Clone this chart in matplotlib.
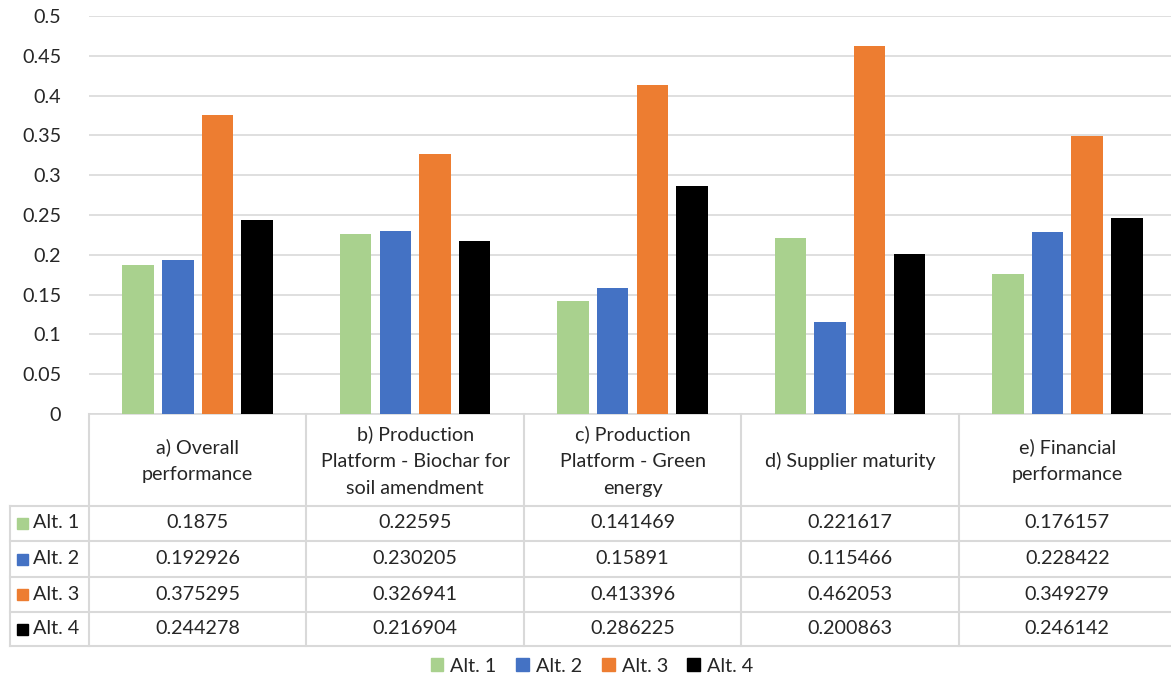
import matplotlib
matplotlib.use("Agg")
import matplotlib.pyplot as plt
from matplotlib.patches import Rectangle
from matplotlib.lines import Line2D
import numpy as np

plt.rcParams['font.family'] = ['Lato', 'DejaVu Sans']

categories = [
    "a) Overall\nperformance",
    "b) Production\nPlatform - Biochar for\nsoil amendment",
    "c) Production\nPlatform - Green\nenergy",
    "d) Supplier maturity",
    "e) Financial\nperformance",
]
series_names = ["Alt. 1", "Alt. 2", "Alt. 3", "Alt. 4"]
alt1 = [0.1875, 0.22595, 0.141469, 0.221617, 0.176157]
alt2 = [0.192926, 0.230205, 0.15891, 0.115466, 0.228422]
alt3 = [0.375295, 0.326941, 0.413396, 0.462053, 0.349279]
alt4 = [0.244278, 0.216904, 0.286225, 0.200863, 0.246142]
yticks = [0, 0.05, 0.1, 0.15, 0.2, 0.25, 0.3, 0.35, 0.4, 0.45, 0.5]
ytick_labels = ["0", "0.05", "0.1", "0.15", "0.2", "0.25", "0.3", "0.35", "0.4", "0.45", "0.5"]

table_text = [
    ["0.1875", "0.22595", "0.141469", "0.221617", "0.176157"],
    ["0.192926", "0.230205", "0.15891", "0.115466", "0.228422"],
    ["0.375295", "0.326941", "0.413396", "0.462053", "0.349279"],
    ["0.244278", "0.216904", "0.286225", "0.200863", "0.246142"],
]
colors = ["#A9D18E", "#4472C4", "#ED7D31", "#000000"]

W, H = 1171, 680
fig = plt.figure(figsize=(W / 100, H / 100), dpi=100)
FS = 14.2

# plot area in pixel coordinates
x0, x1 = 89, 1176
ytop, ybot = 16, 414
ax = fig.add_axes([x0 / W, 1 - ybot / H, (x1 - x0) / W, (ybot - ytop) / H])

values = [alt1, alt2, alt3, alt4]
n = len(categories)
xs = np.arange(n)
bw = 0.145
step = 0.1825
for i, vals in enumerate(values):
    ax.bar(xs + (i - 1.5) * step, vals, width=bw, color=colors[i], zorder=3)

ax.set_xlim(-0.5, n - 0.5)
ax.set_ylim(0, 0.5)
ax.set_yticks(yticks)
ax.set_yticklabels(ytick_labels, fontsize=FS, color="#262626")
ax.set_xticks([])
ax.tick_params(axis='y', length=0, pad=20)
ax.grid(axis='y', color="#D9D9D9", linewidth=1.2, zorder=0)
for s in ["top", "right", "left"]:
    ax.spines[s].set_visible(False)
ax.spines["bottom"].set_color("#D9D9D9")
ax.spines["bottom"].set_linewidth(1.2)

# data table below the plot area
def fx(px):
    return px / W

def fy(py):
    return 1 - py / H

grid_c = "#D9D9D9"
col_w = (x1 - x0) / n
row_edges = [506, 541, 577, 612, 646]
left_edge = 10
for ry in row_edges:
    fig.add_artist(Line2D([fx(left_edge), fx(x1)], [fy(ry), fy(ry)], color=grid_c, lw=1.5))
fig.add_artist(Line2D([fx(left_edge), fx(left_edge)], [fy(506), fy(646)], color=grid_c, lw=1.5))
for j in range(n + 1):
    cx = x0 + j * col_w
    fig.add_artist(Line2D([fx(cx), fx(cx)], [fy(414), fy(646)], color=grid_c, lw=1.5))

txt_c = "#262626"
for j, cat in enumerate(categories):
    cx = x0 + (j + 0.5) * col_w
    fig.text(fx(cx), fy(461), cat, ha='center', va='center', fontsize=FS,
             color=txt_c, linespacing=1.72)

row_centers = [523, 559, 594, 629]
for i in range(4):
    fig.add_artist(Rectangle((fx(17), fy(row_centers[i] + 5.5)), 11 / W, 11 / H,
                             color=colors[i], transform=fig.transFigure))
    fig.text(fx(33), fy(row_centers[i]), series_names[i], ha='left', va='center',
             fontsize=FS, color=txt_c)
    for j in range(n):
        cx = x0 + (j + 0.5) * col_w
        fig.text(fx(cx), fy(row_centers[i]), table_text[i][j], ha='center',
                 va='center', fontsize=FS, color=txt_c)

# legend
handles = [Rectangle((0, 0), 1, 1, color=c) for c in colors]
fig.legend(handles, series_names, loc='center', bbox_to_anchor=(fx(592), fy(666)),
           ncol=4, frameon=False, fontsize=FS, handlelength=0.65, handleheight=0.65,
           handletextpad=0.35, columnspacing=1.0, labelcolor=txt_c)

fig.savefig("out.png", dpi=100)
